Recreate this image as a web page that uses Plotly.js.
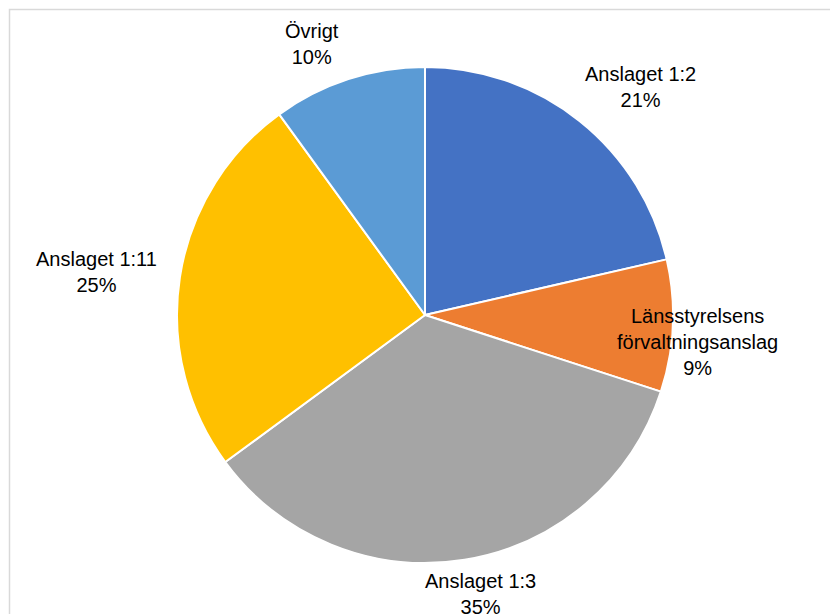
<!DOCTYPE html>
<html>
<head>
<meta charset="utf-8">
<script src="https://cdn.plot.ly/plotly-3.0.1.min.js"></script>
<style>html,body{margin:0;padding:0;background:#fff;}#chart{width:830px;height:614px;}</style>
</head>
<body>
<div id="chart"></div>
<script>
const labels = ["Anslaget 1:2", "Länsstyrelsens<br>förvaltningsanslag", "Anslaget 1:3", "Anslaget 1:11", "Övrigt"];
const values = [21.4, 8.6, 34.9, 25.1, 10.0];
const colors = ["#4472C4", "#ED7D31", "#A5A5A5", "#FFC000", "#5B9BD5"];
// label anchor positions (pixels) for the data labels
const labelPos = [[640, 87], [697, 342], [480, 594], [96, 272], [312, 44]];

const W = 830, H = 614;
const total = values.reduce((a, b) => a + b, 0);
const annotations = labels.map((l, i) => ({
  text: l + "<br>" + Math.round(values[i] / total * 100) + "%",
  x: labelPos[i][0] / W, y: 1 - labelPos[i][1] / H,
  xref: "paper", yref: "paper", xanchor: "center", yanchor: "middle",
  showarrow: false, align: "center",
  font: {family: "Liberation Sans Narrow, Liberation Sans, Arial", size: 20, color: "#000"}
}));

const cx = 425, cy = 315, r = 248;
Plotly.newPlot("chart", [{
  type: "pie",
  labels: labels,
  values: values,
  sort: false,
  direction: "clockwise",
  rotation: 0,
  textinfo: "none",
  hoverinfo: "label+percent",
  marker: {colors: colors, line: {color: "#ffffff", width: 2}},
  domain: {x: [(cx - r) / W, (cx + r) / W], y: [1 - (cy + r) / H, 1 - (cy - r) / H]},
  showlegend: false
}], {
  width: W, height: H,
  margin: {l: 0, r: 0, t: 0, b: 0},
  paper_bgcolor: "#fff",
  showlegend: false,
  annotations: annotations,
  shapes: [{type: "rect", xref: "paper", yref: "paper",
    x0: 9.5 / W, x1: 1.05, y0: -0.05, y1: 1 - 9.5 / H,
    line: {color: "#d9d9d9", width: 1.5}, fillcolor: "rgba(0,0,0,0)", layer: "below"}]
}, {staticPlot: true, displayModeBar: false});
</script>
</body>
</html>
